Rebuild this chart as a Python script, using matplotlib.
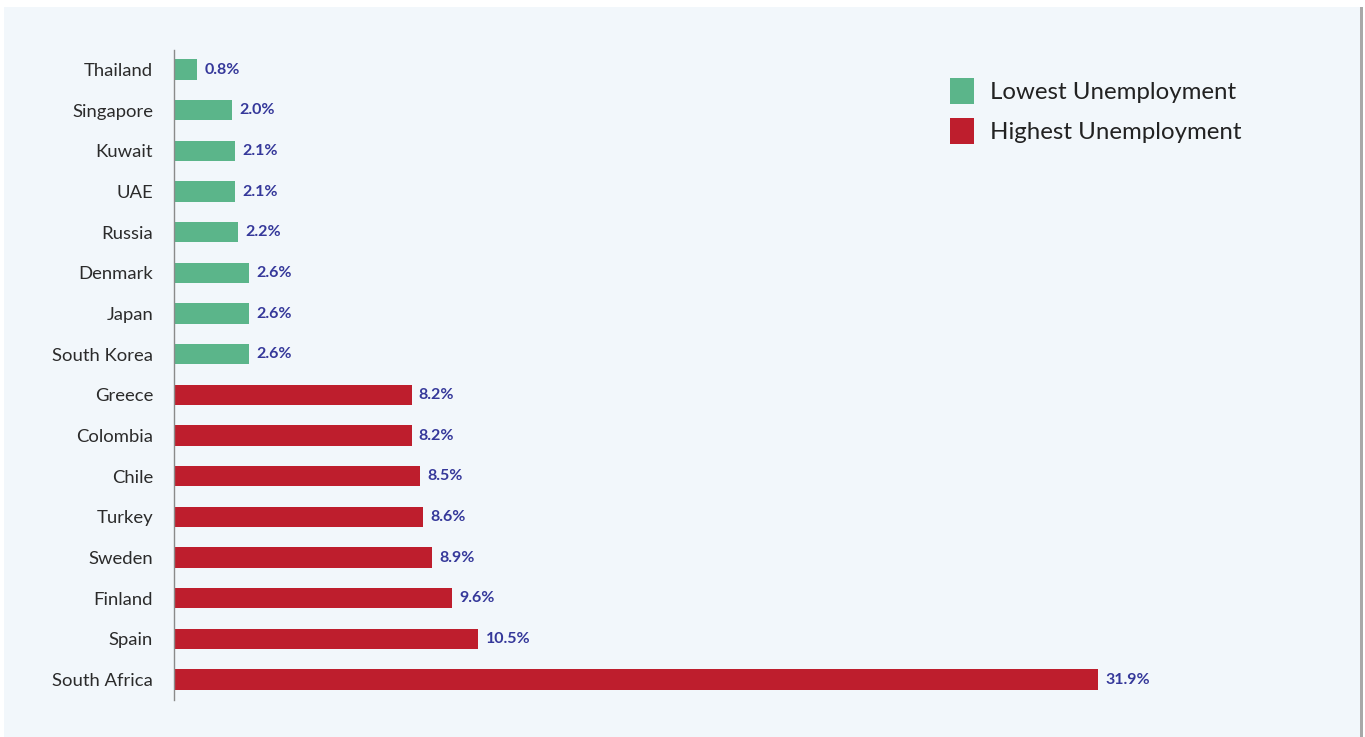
import matplotlib.pyplot as plt
from matplotlib.patches import Patch, Rectangle

countries = ["Thailand", "Singapore", "Kuwait", "UAE", "Russia", "Denmark", "Japan",
             "South Korea", "Greece", "Colombia", "Chile", "Turkey", "Sweden",
             "Finland", "Spain", "South Africa"]
rates = [0.8, 2.0, 2.1, 2.1, 2.2, 2.6, 2.6, 2.6, 8.2, 8.2, 8.5, 8.6, 8.9, 9.6, 10.5, 31.9]
groups = ["low"] * 8 + ["high"] * 8

GREEN = "#5bb58a"
RED = "#be1e2d"
LABEL = "#35389a"
BG = "#f2f7fb"

plt.rcParams["font.family"] = ["Lato", "DejaVu Sans"]

fig = plt.figure(figsize=(13.65, 7.37), dpi=100)
fig.patch.set_facecolor("white")
W, H = 1365, 737
# light panel behind the chart, with a thin shadow on the right
fig.patches.append(Rectangle((1360 / W, 0), 3 / W, 1 - 7 / H, transform=fig.transFigure,
                             facecolor="#a8a8a8", edgecolor="none", zorder=-2))
fig.patches.append(Rectangle((4 / W, 0), 1356 / W, 1 - 7 / H, transform=fig.transFigure,
                             facecolor=BG, edgecolor="none", zorder=-1))

ax = fig.add_axes([174 / W, 1 - 700 / H, 1159 / W, 650 / H])
ax.set_facecolor("none")

colors = [GREEN if g == "low" else RED for g in groups]
y = range(len(countries))
ax.barh(y, rates, height=0.5, color=colors)

for yi, v in zip(y, rates):
    ax.text(v + 0.25, yi, f"{v:.1f}%", va="center", ha="left", fontsize=11.5,
            fontweight="bold", color=LABEL)

ax.set_yticks(list(y))
ax.set_yticklabels(countries, fontsize=13.3, color="#2b2b2b")
ax.tick_params(axis="y", length=0, pad=15)
ax.set_xticks([])
ax.set_xlim(0, 40)
ax.set_ylim(15.5, -0.48)
for s in ["top", "right", "bottom"]:
    ax.spines[s].set_visible(False)
ax.spines["left"].set_color("#8a8a8a")
ax.spines["left"].set_linewidth(1)

handles = [Patch(facecolor=GREEN, label="Lowest Unemployment"),
           Patch(facecolor=RED, label="Highest Unemployment")]
fig.legend(handles=handles, loc="upper left", bbox_to_anchor=(938 / W, 1 - 66 / H),
           frameon=False, fontsize=17.3, handlelength=0.98, handleheight=1.3,
           handletextpad=0.7, labelspacing=0.58, labelcolor="#222222", borderpad=0)

fig.savefig("out.png", dpi=100, facecolor=fig.get_facecolor())
